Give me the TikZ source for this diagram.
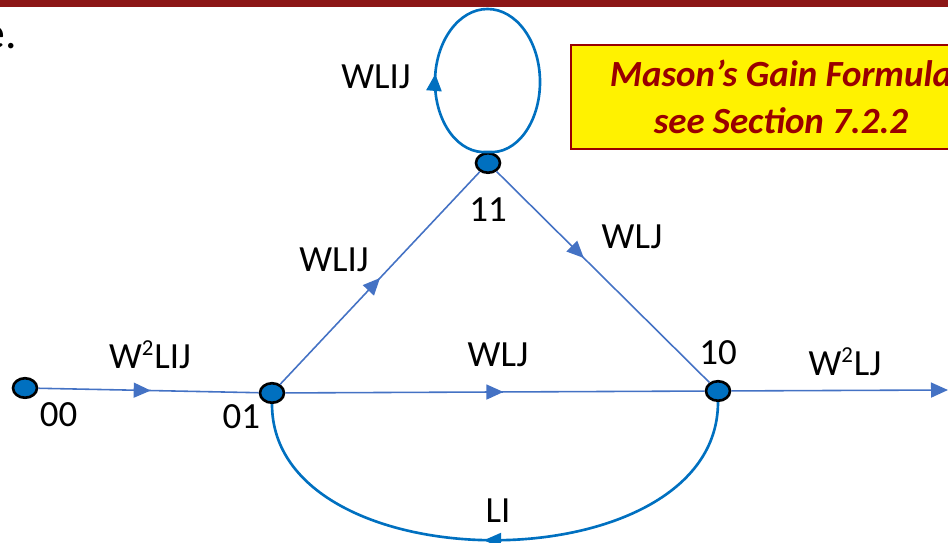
\documentclass[tikz,border=0pt]{standalone}
\usepackage{fontspec}
\setmainfont{Carlito}
\usetikzlibrary{arrows.meta,decorations.markings,shapes.geometric}
\definecolor{nodeblue}{RGB}{0,112,192}
\definecolor{edgeblue}{RGB}{68,114,196}
\definecolor{barred}{RGB}{140,22,22}
\definecolor{boxred}{RGB}{153,0,0}
\newcommand{\sqr}{\textsuperscript{\fontsize{13}{13}\selectfont 2}}
\tikzset{midarrow/.style={postaction={decorate}, decoration={markings, mark=at position #1 with {\arrow{Triangle[length=0.34cm, width=0.3cm]}}}}}
\begin{document}
\begin{tikzpicture}
[x=0.02cm, y=-0.02cm, font=\fontsize{21}{25}\selectfont]
\tikzstyle{state}=[ellipse, draw, line width=1.5pt, fill=nodeblue, inner sep=0mm, minimum width=0.48cm, minimum height=0.39cm]
\tikzstyle{tag}=[inner sep=1pt]
\tikzstyle{edge}=[draw=edgeblue, line width=0.9pt]
\tikzstyle{curve}=[draw=nodeblue, line width=1.5pt]
\useasboundingbox (0,0) rectangle (948,543);
\clip (0,0) rectangle (948,543);

\fill[barred] (0,0) rectangle (948,7.5);
\node[anchor=base east, inner sep=0pt, font=\fontsize{26}{30}\selectfont] (cut) at (17,49) {e.};

\node[state]	(S00)	at (25,388)		[label={[tag, label distance=0.12cm]below right:00}] {};
\node[state]	(S01)	at (272,393)	[label={[tag, label distance=0.04cm]below left:01}] {};
\node[state]	(S10)	at (718,391)	[label={[tag, label distance=0.27cm]above:10}] {};
\node[state]	(S11)	at (488,163)	[label={[tag, label distance=0.43cm]below:11}] {};
\coordinate	(out)	at (948,390);
\coordinate	(loopL)	at (435,82);
\coordinate	(loopT)	at (487.5,9);
\coordinate	(loopR)	at (540,82);

\draw[edge, midarrow=0.51]	(S00)--(S01);
\draw[edge, midarrow=0.52]	(S01)--(S10);
\draw[edge, midarrow=0.5]	(S01)--(S11);
\draw[edge, midarrow=0.41]	(S11)--(S10);
\draw[edge, -{Triangle[length=0.34cm, width=0.3cm]}]	(S10)--(out);
\draw[curve, midarrow=0.52]	(S10) .. controls (718,586) and (272,586) .. (S01);
\draw[curve, midarrow=0.27]	(S11.north) .. controls (458.5,155) and (435,122.3) .. (loopL)
	.. controls (435,41.7) and (458.5,9) .. (loopT)
	.. controls (516.5,9) and (540,41.7) .. (loopR)
	.. controls (540,122.3) and (516.5,155) .. (S11.north);

\node[tag]	(lab0001)	at (150,355) {W\sqr LIJ};
\node[tag]	(lab0110)	at (498,355) {WLJ};
\node[tag]	(lab0111)	at (334,260) {WLIJ};
\node[tag]	(lab1110)	at (632,237) {WLJ};
\node[tag]	(labout)	at (845,362) {W\sqr LJ};
\node[tag]	(labloop)	at (376,77) {WLIJ};
\node[tag]	(labback)	at (498,511) {LI};

\node[draw=boxred, line width=1.5pt, fill=yellow, minimum width=8.4cm, minimum height=2.08cm, align=center, text=boxred, font=\fontsize{21}{26.7}\selectfont\bfseries\itshape]
	(mason) at (781,97) {Mason’s Gain Formula\\see Section 7.2.2};
\end{tikzpicture}
\end{document}
